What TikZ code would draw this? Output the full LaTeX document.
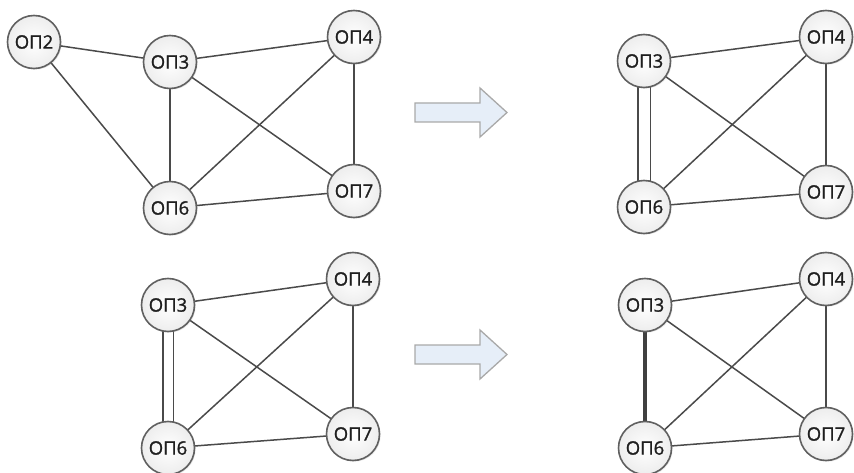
\documentclass[tikz,border=0pt]{standalone}
\usepackage{fontspec}
\setmainfont{Open Sans}
\newfontfamily\opfont[FakeBold=1.2]{Open Sans}
\usetikzlibrary{shadows,backgrounds}
\definecolor{edgec}{HTML}{4A4A4A}
\definecolor{ringc}{HTML}{606060}
\definecolor{arrfill}{HTML}{E6EEF8}
\definecolor{arrline}{HTML}{A9A9A9}
\tikzset{
  op/.style={circle, draw=ringc, line width=1.6pt, inner sep=0pt, minimum size=53pt,
    inner color=white, outer color=black!7,
    drop shadow={opacity=0.18, shadow xshift=1.2pt, shadow yshift=-1.2pt},
    font=\opfont\fontsize{18.5}{20}\selectfont, text=black!88},
  edge/.style={draw=edgec, line width=1.5pt},
  dbl/.style={draw=edgec, line width=1.5pt, double=white, double distance=#1},
  thick edge/.style={draw=black!75, line width=4.5pt},
  bigarrow/.style={fill=arrfill, draw=arrline, line width=1.3pt, line join=miter}
}
\begin{document}
\begin{tikzpicture}[x=1pt,y=-1pt]
\useasboundingbox (0,0) rectangle (854,473);
% top-left
\node[op] (a2) at (34,42) {ОП2};
\node[op] (a3) at (170,62) {ОП3};
\node[op] (a4) at (354,37) {ОП4};
\node[op] (a6) at (170,208) {ОП6};
\node[op] (a7) at (354,191) {ОП7};
% top-right
\node[op] (b3) at (644,61) {ОП3};
\node[op] (b4) at (826,37) {ОП4};
\node[op] (b6) at (644,207) {ОП6};
\node[op] (b7) at (826,192) {ОП7};
% bottom-left
\node[op] (c3) at (168,305) {ОП3};
\node[op] (c4) at (353,279) {ОП4};
\node[op] (c6) at (168,448) {ОП6};
\node[op] (c7) at (353,434) {ОП7};
% bottom-right
\node[op] (d3) at (645,305) {ОП3};
\node[op] (d4) at (826,279) {ОП4};
\node[op] (d6) at (645,448) {ОП6};
\node[op] (d7) at (826,434) {ОП7};
\begin{pgfonlayer}{background}
  % top-left edges
  \draw[edge] (a2.center) -- (a3.center);
  \draw[edge] (a2.center) -- (a6.center);
  \draw[edge] (a3.center) -- (a4.center);
  \draw[edge] (a3.center) -- (a6.center);
  \draw[edge] (a3.center) -- (a7.center);
  \draw[edge] (a4.center) -- (a6.center);
  \draw[edge] (a4.center) -- (a7.center);
  \draw[edge] (a6.center) -- (a7.center);
  % top-right edges
  \draw[dbl=11pt] (b3.center) -- (b6.center);
  \draw[edge] (b3.center) -- (b4.center);
  \draw[edge] (b3.center) -- (b7.center);
  \draw[edge] (b4.center) -- (b6.center);
  \draw[edge] (b4.center) -- (b7.center);
  \draw[edge] (b6.center) -- (b7.center);
  % bottom-left edges
  \draw[dbl=9pt] (c3.center) -- (c6.center);
  \draw[edge] (c3.center) -- (c4.center);
  \draw[edge] (c3.center) -- (c7.center);
  \draw[edge] (c4.center) -- (c6.center);
  \draw[edge] (c4.center) -- (c7.center);
  \draw[edge] (c6.center) -- (c7.center);
  % bottom-right edges
  \draw[thick edge] (d3.center) -- (d6.center);
  \draw[edge] (d3.center) -- (d4.center);
  \draw[edge] (d3.center) -- (d7.center);
  \draw[edge] (d4.center) -- (d6.center);
  \draw[edge] (d4.center) -- (d7.center);
  \draw[edge] (d6.center) -- (d7.center);
\end{pgfonlayer}
% arrows
\draw[bigarrow] (415,103) -- (480,103) -- (480,88) -- (507,112.5) -- (480,137) -- (480,122) -- (415,122) -- cycle;
\draw[bigarrow] (415,345) -- (480,345) -- (480,330) -- (507,354.5) -- (480,379) -- (480,364) -- (415,364) -- cycle;
\end{tikzpicture}
\end{document}
